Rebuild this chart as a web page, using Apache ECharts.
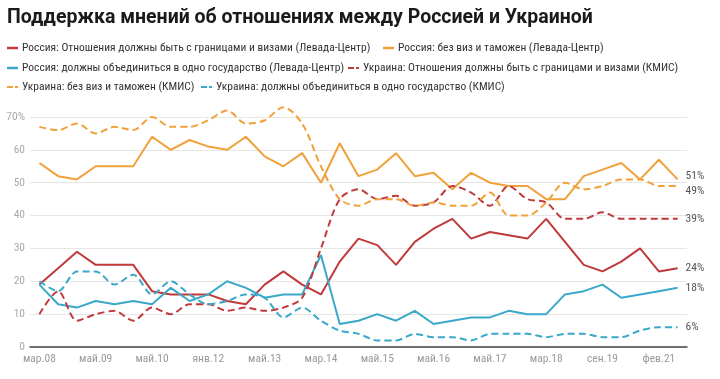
<!DOCTYPE html>
<html><head><meta charset="utf-8">
<script src="https://cdn.jsdelivr.net/npm/echarts@6/dist/echarts.min.js"></script>
<style>html,body{margin:0;padding:0;background:#fff}#c{width:720px;height:379px}</style>
</head><body><div id="c"></div>
<script>
const titleText = 'Поддержка мнений об отношениях между Россией и Украиной';
const categories = ['мар.08','сен.08','дек.08','май.09','сен.09','дек.09','май.10','сен.10','май.11','янв.12','май.12','ноя.12','май.13','сен.13','дек.13','мар.14','май.14','сен.14','май.15','сен.15','фев.16','май.16','сен.16','фев.17','май.17','сен.17','дек.17','мар.18','сен.18','фев.19','сен.19','фев.20','сен.20','фев.21','май.21'];
const yTicks = [0,10,20,30,40,50,60,70];
const names = [
 'Россия: Отношения должны быть с границами и визами (Левада-Центр)',
 'Россия: без виз и таможен (Левада-Центр)',
 'Россия: должны объединиться в одно государство (Левада-Центр)',
 'Украина: Отношения должны быть с границами и визами (КМИС)',
 'Украина: без виз и таможен (КМИС)',
 'Украина: должны объединиться в одно государство (КМИС)'
];
const ruBorders = [19,24,29,25,25,25,17,16,16,16,14,13,19,23,19,16,26,33,31,25,32,36,39,33,35,34,33,39,32,25,23,26,30,23,24];
const ruNoVisa  = [56,52,51,55,55,55,64,60,63,61,60,64,58,55,59,50,62,52,54,59,52,53,48,53,50,49,49,45,45,52,54,56,51,57,51];
const ruUnite   = [19,13,12,14,13,14,13,18,14,16,20,18,15,16,16,28,7,8,10,8,11,7,8,9,9,11,10,10,16,17,19,15,16,17,18];
const uaBorders = [10,17,8,10,11,8,12,10,13,13,11,12,11,12,15,30,45,48,45,46,43,44,49,47,43,49,45,44,39,39,41,39,39,39,39];
const uaNoVisa  = [67,66,68,65,67,66,70,67,67,69,72,68,69,73,68,55,45,43,45,45,43,44,43,43,47,40,40,44,50,48,49,51,51,49,49];
const uaUnite   = [20,17,23,23,19,22,16,20,16,13,14,16,15,9,12,8,5,4,2,2,4,3,3,2,4,4,4,3,4,4,3,3,5,6,6];

const RED='#c0393b', ORANGE='#f0a13a', BLUE='#3aa8c8';
const FONT='Roboto';
const NARROW="'Liberation Sans Narrow', 'Roboto Condensed', Roboto";
const solidIcon='rect';
const dashIcon='path://M0,0H6V2H0Z M8,0H11V2H8Z';

function mk(name, data, color, dashed, endOffset){
  return {
    name, type:'line', data, symbol:'none', clip:false,
    smooth: dashed ? 0.3 : false,
    lineStyle:{color, width:2, type: dashed ? [7,4] : 'solid'},
    itemStyle:{color},
    endLabel:{show:true, formatter:p=>p.value+'%', color:'#555', fontFamily:NARROW, fontSize:11.5, distance:8, offset:endOffset||[0,0]},
    emphasis:{disabled:true}
  };
}
function lg(name, icon, left, top){
  return {data:[{name, icon}], left, top, padding:0, itemWidth:11, itemHeight:2.5, itemGap:0, selectedMode:false,
    textStyle:{color:'#333', fontFamily:NARROW, fontSize:11.5, padding:[0,0,0,-1]}};
}
const chart = echarts.init(document.getElementById('c'), null, {renderer:'canvas'});
chart.setOption({
  animation:false,
  backgroundColor:'#fff',
  title:{text:titleText, left:7, top:8, padding:0, textStyle:{fontFamily:FONT, fontWeight:'bold', fontSize:19.5, color:'#1a1a1a'}},
  legend:[
    lg(names[0], solidIcon, 7, 42),
    lg(names[1], solidIcon, 383, 42),
    lg(names[2], solidIcon, 7, 62),
    lg(names[3], dashIcon, 348, 62),
    lg(names[4], dashIcon, 7, 81),
    lg(names[5], dashIcon, 201, 81)
  ],
  grid:{left:30, right:33, top:117, bottom:32, containLabel:false},
  xAxis:{type:'category', data:categories, boundaryGap:true,
    axisLine:{show:true, lineStyle:{color:'#444', width:1.5}}, axisTick:{show:false},
    axisLabel:{interval:2, color:'#999', fontFamily:NARROW, fontSize:11.5, margin:6},
    splitLine:{show:false}},
  yAxis:{type:'value', min:0, max:70, interval:10,
    axisLine:{show:false}, axisTick:{show:false},
    axisLabel:{color:'#aaa', fontFamily:NARROW, fontSize:11.5, margin:5, formatter:v=> v===70 ? '70%' : String(v)},
    splitLine:{lineStyle:{color:'#e6e6e6', width:1}}},
  series:[
    mk(names[0], ruBorders, RED, false),
    mk(names[1], ruNoVisa, ORANGE, false, [0,-3]),
    mk(names[2], ruUnite, BLUE, false),
    mk(names[3], uaBorders, RED, true),
    mk(names[4], uaNoVisa, ORANGE, true, [0,5]),
    mk(names[5], uaUnite, BLUE, true)
  ]
});
</script></body></html>
